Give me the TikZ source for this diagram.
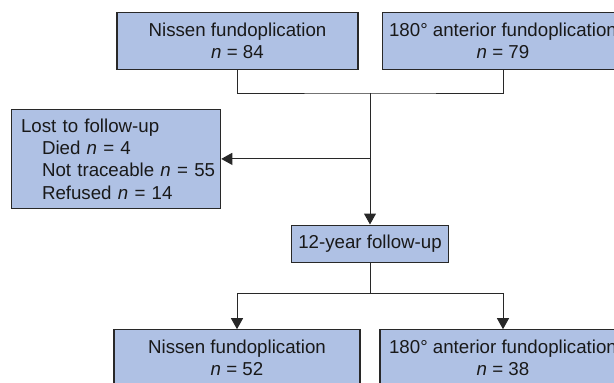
\documentclass[tikz,border=0pt]{standalone}
\usepackage{fontspec}
\setmainfont{Liberation Sans}
\usetikzlibrary{arrows.meta}
\definecolor{boxfill}{RGB}{175,193,228}
\definecolor{linecol}{RGB}{40,40,40}
\begin{document}
\begin{tikzpicture}[x=1pt,y=-1pt,
  box/.style={draw=linecol, line width=1.1pt, fill=boxfill, inner sep=0pt,
    font=\fontsize{18.7}{22.6}\selectfont, text=black!90},
  conn/.style={draw=linecol, line width=1pt},
  arr/.style={conn, -{Triangle[length=11pt,width=12pt]}}]
\useasboundingbox (0,0) rectangle (614,383);
\clip (0,0) rectangle (614,383);
\node[box, minimum width=241pt, minimum height=56.5pt, align=center] (tl) at (237.5,41) {Nissen fundoplication\\\textit{n} = 84};
\node[box, minimum width=241pt, minimum height=56.5pt, align=center] (tr) at (503,41) {180° anterior fundoplication\\\textit{n} = 79};
\node[box, minimum width=209pt, minimum height=99.7pt, inner xsep=9.3pt, text width=190.4pt, align=left, font=\fontsize{18.7}{22.3}\selectfont] (lost) at (116.2,158.9) {\mbox{Lost to follow-up}\\\mbox{\hspace*{21pt}Died \textit{n} = 4}\\\mbox{\hspace*{21pt}Not traceable \textit{n} = 55}\\\mbox{\hspace*{21pt}Refused \textit{n} = 14}};
\node[box, minimum width=157.6pt, minimum height=37.7pt] (fu) at (370,243.9) {12-year follow-up};
\node[box, minimum width=246pt, minimum height=56.5pt, align=center] (bl) at (237,358) {Nissen fundoplication\\\textit{n} = 52};
\node[box, minimum width=246pt, minimum height=56.5pt, align=center] (br) at (503,358) {180° anterior fundoplication\\\textit{n} = 38};
\coordinate (j1) at (370,93);
\coordinate (j2) at (j1 |- lost.east);
\coordinate (j3) at (370,293);
\draw[conn] (tl.south) |- (j1) -| (tr.south);
\draw[arr] (j1) -- (fu.north);
\draw[arr] (j2) -- (lost.east);
\draw[conn] (fu.south) -- (j3);
\draw[arr] (j3) -| (bl.north);
\draw[arr] (j3) -| (br.north);
\end{tikzpicture}
\end{document}
